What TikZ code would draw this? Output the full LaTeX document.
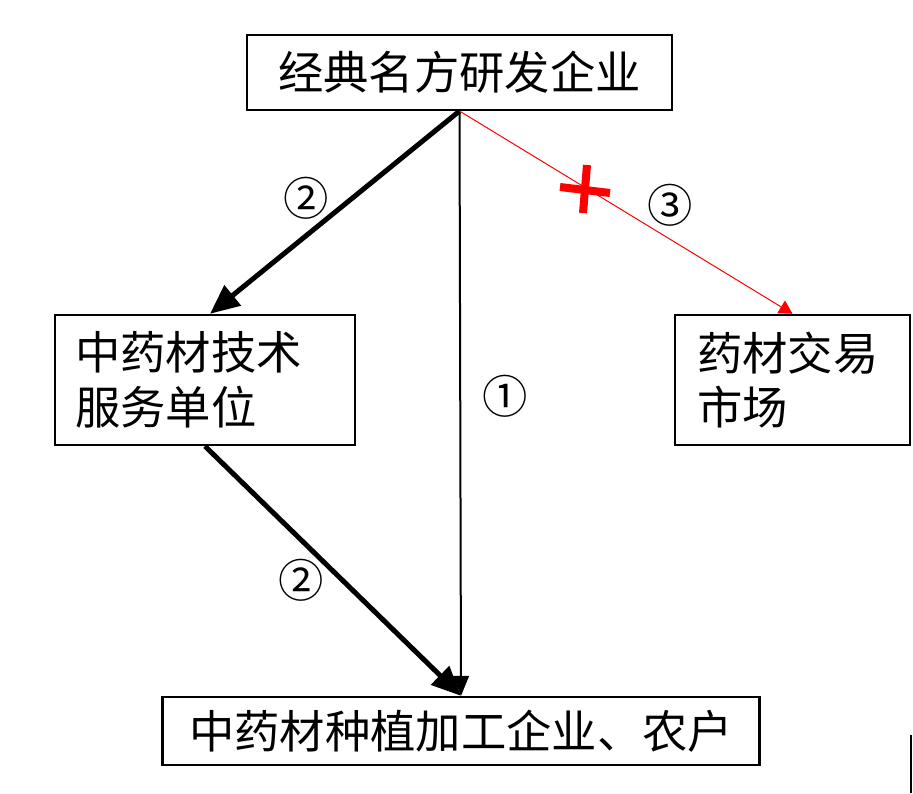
\documentclass[tikz,border=0pt]{standalone}
\usepackage{fontspec}
\setmainfont{Noto Sans CJK SC}
\usetikzlibrary{arrows.meta,calc}
\tikzstyle{box}=[draw, line width=1.8pt, inner sep=0pt, font=\fontsize{34}{41}\selectfont]
\tikzstyle{num}=[font=\fontsize{34}{36}\selectfont]
\tikzstyle{heavy}=[line width=3.75pt, -{Triangle[length=22pt, width=19pt]}]
\tikzstyle{light}=[line width=1.5pt, -{Triangle[length=15pt, width=12pt]}]
\tikzstyle{blocked}=[line width=0.75pt, red, -{Triangle[length=10pt, width=11pt]}]

\begin{document}
\begin{tikzpicture}[x=0.75pt, y=-0.75pt]
\useasboundingbox (0,0) rectangle (913,793);
% boxes
\node[box, minimum width=319pt, minimum height=56pt] (firm) at (459.5,72.5) {经典名方研发企业};
\node[box, minimum width=225pt, minimum height=97.5pt, text width=195pt, inner xsep=15pt, align=left] (tech) at (205,380) {中药材技术\\服务单位};
\node[box, minimum width=176pt, minimum height=97.5pt, text width=143pt, inner xsep=16.5pt, align=left] (market) at (792.5,380) {药材交易\\市场};
\node[box, minimum width=448pt, minimum height=51pt] (farm) at (461,731) {中药材种植加工企业、农户};
% connectors
\draw[heavy] (firm.south) -- ($(tech.north)+(5,0)$);
\draw[heavy] (tech.south) -- (farm.north);
\draw[light] (firm.south) -- (farm.north);
\draw[blocked] (firm.south) -- (market.north);
% labels
\node[num] (l1) at (505,396) {①};
\node[num] (l2a) at (306,198) {②};
\node[num] (l2b) at (301,580) {②};
\node[num] (l3) at (670,205) {③};
% red cross
\draw[red, line width=6pt] (560,187) -- (610,193);
\draw[red, line width=6pt] (587,165) -- (583,213);
% edge of a cut box
\draw[line width=1.1pt] (911,735) -- (911,793);
\end{tikzpicture}
\end{document}
